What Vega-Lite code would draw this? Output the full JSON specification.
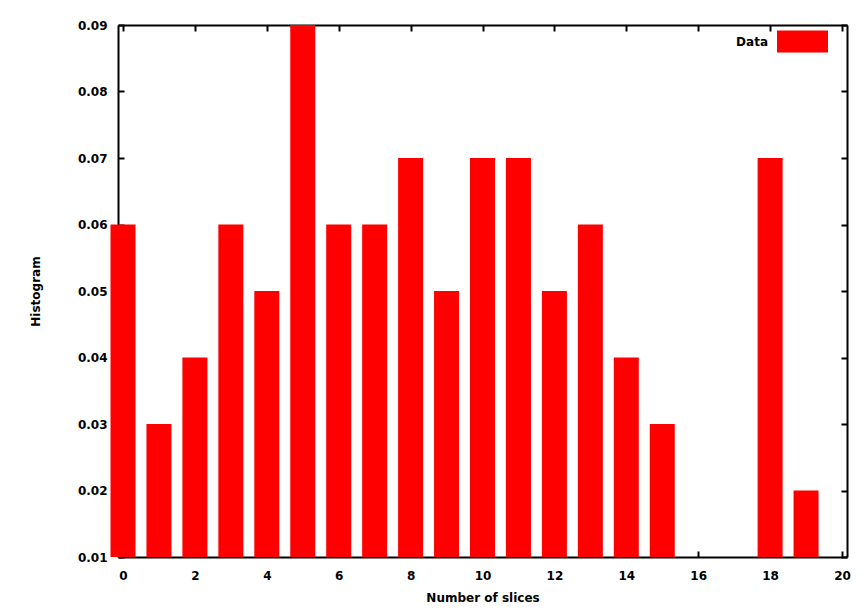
{
  "$schema": "https://vega.github.io/schema/vega-lite/v6.json",
  "width": 860,
  "height": 604,
  "autosize": {"type": "none"},
  "padding": {"left": 6, "top": 7, "right": 0, "bottom": 0},
  "background": "#ffffff",
  "view": {"fill": "#ffffff", "stroke": null},
  "config": {
    "font": "DejaVu Sans",
    "axis": {
      "domainColor": "#000000",
      "domainWidth": 2,
      "tickColor": "#000000",
      "tickWidth": 2,
      "tickSize": -6,
      "grid": false,
      "labelColor": "#000000",
      "labelFontSize": 12,
      "labelFontWeight": "bold",
      "labelFlush": false,
      "labelOverlap": false,
      "titleColor": "#000000",
      "titleFontSize": 12,
      "titleFontWeight": "bold"
    }
  },
  "data": {
    "values": [
      {"slices": 0, "histogram": 0.06},
      {"slices": 1, "histogram": 0.03},
      {"slices": 2, "histogram": 0.04},
      {"slices": 3, "histogram": 0.06},
      {"slices": 4, "histogram": 0.05},
      {"slices": 5, "histogram": 0.09},
      {"slices": 6, "histogram": 0.06},
      {"slices": 7, "histogram": 0.06},
      {"slices": 8, "histogram": 0.07},
      {"slices": 9, "histogram": 0.05},
      {"slices": 10, "histogram": 0.07},
      {"slices": 11, "histogram": 0.07},
      {"slices": 12, "histogram": 0.05},
      {"slices": 13, "histogram": 0.06},
      {"slices": 14, "histogram": 0.04},
      {"slices": 15, "histogram": 0.03},
      {"slices": 18, "histogram": 0.07},
      {"slices": 19, "histogram": 0.02}
    ]
  },
  "resolve": {"axis": {"x": "independent", "y": "independent"}},
  "layer": [
    {
      "mark": {"type": "bar", "size": 25, "color": "#ff0000"},
      "encoding": {
        "x": {
          "field": "slices",
          "type": "quantitative",
          "scale": {"domain": [0, 20], "range": [112, 841], "zero": false, "nice": false},
          "axis": {
            "orient": "bottom",
            "offset": -54,
            "values": [0, 2, 4, 6, 8, 10, 12, 14, 16, 18, 20],
            "labelPadding": 19,
            "title": "Number of slices",
            "titlePadding": 11
          }
        },
        "y": {
          "field": "histogram",
          "type": "quantitative",
          "scale": {"domain": [0.01, 0.09], "range": [550, 18], "zero": false, "nice": false},
          "axis": {
            "orient": "left",
            "offset": -112,
            "values": [0.01, 0.02, 0.03, 0.04, 0.05, 0.06, 0.07, 0.08, 0.09],
            "format": ".2f",
            "labelPadding": 17,
            "title": "Histogram",
            "titlePadding": 35
          }
        },
        "y2": {"datum": 0.01},
        "color": {
          "datum": "Data",
          "scale": {"range": ["#ff0000"]},
          "legend": {
            "orient": "none",
            "legendX": 771,
            "legendY": 9,
            "title": null,
            "padding": 0,
            "symbolType": "M-1,-0.43H1V0.43H-1Z",
            "symbolSize": 2601,
            "symbolStrokeWidth": 0,
            "labelAlign": "right",
            "labelOffset": -60,
            "labelFontSize": 12,
            "labelFontWeight": "bold",
            "labelColor": "#000000"
          }
        }
      }
    },
    {
      "mark": {"type": "bar", "size": 25, "opacity": 0},
      "encoding": {
        "x": {
          "field": "slices",
          "type": "quantitative",
          "axis": {
            "orient": "top",
            "offset": -18,
            "values": [0, 2, 4, 6, 8, 10, 12, 14, 16, 18, 20],
            "labels": false,
            "title": null
          }
        },
        "y": {
          "field": "histogram",
          "type": "quantitative",
          "axis": {
            "orient": "right",
            "offset": -19,
            "values": [0.01, 0.02, 0.03, 0.04, 0.05, 0.06, 0.07, 0.08, 0.09],
            "labels": false,
            "title": null
          }
        },
        "y2": {"datum": 0.01}
      }
    }
  ]
}
